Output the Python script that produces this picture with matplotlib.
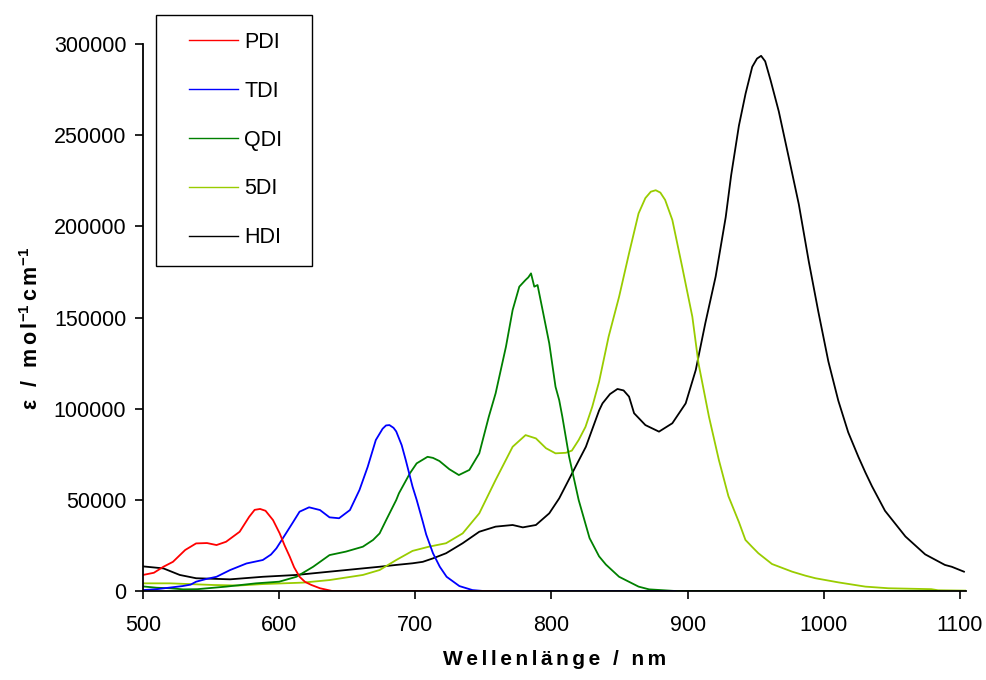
import numpy as np
import matplotlib
matplotlib.use('Agg')
import matplotlib.pyplot as plt
from matplotlib.patches import Rectangle

plt.rcParams['font.family'] = ['Liberation Sans', 'DejaVu Sans']
plt.rcParams['mathtext.fontset'] = 'custom'
plt.rcParams['mathtext.rm'] = 'Liberation Sans:bold'
plt.rcParams['mathtext.it'] = 'Liberation Sans:bold'
plt.rcParams['mathtext.bf'] = 'Liberation Sans:bold'

# absorption spectra (nm, epsilon)
pdi_nm = [500, 508, 515, 522, 531, 539, 547, 554, 561, 571, 578, 582, 586, 590, 595.5, 600.4,
          604, 607.8, 611, 615, 619, 623.7, 630, 639, 700, 761]
pdi_eps = [8800, 10000, 13300, 16000, 22500, 26100, 26300, 25200, 27000, 32500, 40700, 44500,
           45000, 44000, 38900, 31600, 25000, 18800, 13000, 7800, 5000, 3300, 1500, 0, 0, 0]

tdi_nm = [500, 510, 529, 535, 539, 546, 554, 564, 576, 588, 594, 598, 605, 610, 615, 622, 630,
          637, 644, 652, 659, 665, 671, 676, 678.5, 681, 684, 686, 690, 693, 698, 701, 705.5,
          708, 713, 718, 723, 732.4, 742, 750, 891]
tdi_eps = [500, 1000, 2700, 3500, 5100, 6500, 7800, 11500, 15100, 17000, 20000, 23400, 31600,
           37500, 43500, 45900, 44400, 40400, 39900, 44400, 55400, 68000, 82800, 89000, 90800,
           91000, 89500, 87500, 80000, 71800, 57200, 50000, 38000, 31000, 20700, 13300, 7800,
           2700, 500, 0, 0]

qdi_nm = [500, 510, 520, 529.5, 540, 561, 583, 600, 612.7, 625, 637, 649, 661.5, 669, 673.8,
          678.6, 686, 688, 696, 701, 709, 713, 717.7, 725, 732, 739.7, 747, 754, 759, 766.6,
          771.5, 776.4, 781, 783, 785, 787.4, 789.8, 793.5, 798.4, 803, 805.7, 808, 813, 820,
          822.8, 828, 835, 840, 849.7, 864, 871.7, 891, 1085]
qdi_eps = [2500, 1800, 1500, 900, 1000, 2400, 4200, 5100, 7800, 13300, 19700, 21600, 24300,
           28000, 31600, 38900, 49900, 53600, 64500, 70000, 73600, 73000, 71300, 66800, 63600,
           66400, 75500, 95600, 108400, 134000, 154100, 166900, 170600, 172000, 174200, 166900,
           167800, 154100, 135800, 112000, 104700, 95600, 73600, 49900, 42600, 29000, 19000,
           14500, 7800, 2400, 900, 0, 0]

fivedi_nm = [500, 520, 551.5, 570, 588, 617.5, 637, 661.5, 673.8, 686, 698, 710, 722.6, 734.8,
             747, 759, 771.5, 781, 788.6, 796, 803, 810.6, 815, 820, 825, 830, 835, 842, 849.7,
             857, 864, 869, 873, 876.6, 880, 883.5, 888.8, 896, 903.5, 908, 915.7, 923, 930,
             937.7, 942.5, 947.5, 952, 962, 976.8, 986.6, 993.9, 1011, 1030.6, 1047.6, 1079,
             1084, 1104]
fivedi_eps = [4200, 4200, 3300, 3000, 3800, 4600, 6000, 8800, 11500, 17000, 22000, 24300, 26200,
              31600, 42600, 60900, 79100, 85500, 83700, 78300, 75500, 75800, 77000, 82800, 90000,
              101100, 114800, 139500, 161400, 185200, 207100, 215500, 219000, 219800, 218500,
              214500, 203500, 177900, 150400, 124900, 95600, 71800, 52000, 37800, 28000, 24100,
              20700, 14800, 10600, 8400, 7000, 4700, 2400, 1500, 1000, 400, 200]

hdi_nm = [500, 515, 527, 539, 564, 588, 612.7, 637, 661.5, 673.8, 686, 698, 705.5, 713, 722.6,
          734.8, 747, 759, 771.5, 779, 788.6, 798.4, 805.7, 815.5, 825.3, 835, 837.5, 843, 848.5,
          853, 857, 860.7, 869, 879, 888.8, 898.6, 906, 913, 920.6, 928, 932, 937.7, 942.6,
          947.5, 951, 954, 957, 961, 967, 974.4, 981.7, 989, 996, 1003.4, 1010.7, 1018, 1025.5,
          1030.6, 1035.4, 1045, 1060, 1074.5, 1089, 1094, 1103]
hdi_eps = [13500, 12400, 8800, 7000, 6400, 7800, 8800, 10600, 12400, 13300, 14300, 15200, 16000,
           17900, 20700, 26200, 32500, 35300, 36200, 34900, 36200, 42600, 50800, 65000, 79100,
           99000, 102900, 108000, 110800, 110000, 106600, 97500, 91000, 87400, 92000, 102900,
           121200, 146800, 172400, 205000, 228000, 255200, 272800, 287500, 292000, 293500,
           290500, 280000, 263000, 237500, 212100, 180800, 153300, 125900, 104400, 87000, 73500,
           65000, 57500, 44000, 29900, 20100, 14300, 13300, 10600]

names = ['PDI', 'TDI', 'QDI', '5DI', 'HDI']
colors = ['#ff0000', '#0000ff', '#008000', '#99cc00', '#000000']
series = [(pdi_nm, pdi_eps), (tdi_nm, tdi_eps), (qdi_nm, qdi_eps),
          (fivedi_nm, fivedi_eps), (hdi_nm, hdi_eps)]

W, H = 986, 680
fig = plt.figure(figsize=(W / 100, H / 100), dpi=100)
ax = fig.add_axes([143 / W, 1 - 591 / H, (966 - 143) / W, (591 - 44) / H])

# draw last series first so the short ones stay on top along the baseline
handles = {}
for (nm, eps), name, c in reversed(list(zip(series, names, colors))):
    line, = ax.plot(nm, eps, color=c, lw=1.3, label=name)
    handles[name] = line

ax.set_xlim(500, 1104.5)
ax.set_ylim(0, 300000)
ax.set_xticks(np.arange(500, 1101, 100))
ax.set_yticks(np.arange(0, 300001, 50000))
ax.tick_params(labelsize=15.5, direction='out', length=6, width=1.2, color='black')
ax.tick_params(axis='y', pad=6)
ax.tick_params(axis='x', pad=11)
for s in ['top', 'right']:
    ax.spines[s].set_visible(False)
for s in ['left', 'bottom']:
    ax.spines[s].set_linewidth(1.3)

sp = '\u2006'
ax.set_xlabel(sp.join('Wellenlänge / nm'), fontsize=15, fontweight='bold')
ax.xaxis.set_label_coords(0.5, -0.108)
ax.set_ylabel(sp.join('ε / mol') + '$^{-1}$' + sp + sp.join('cm') + '$^{-1}$',
              fontsize=15.5, fontweight='bold')
ax.yaxis.set_label_coords(-0.121, 0.48)

# legend box
fig.patches.append(Rectangle((155.7 / W, 1 - 265.7 / H), 156.3 / W, 250.4 / H,
                             transform=fig.transFigure, fill=False, edgecolor='black', lw=1.0))
leg = fig.legend([handles[n] for n in names], names, loc='upper left',
                 bbox_to_anchor=(189 / W, 1 - 32 / H), bbox_transform=fig.transFigure,
                 frameon=False, fontsize=15.5, handlelength=2.28, handletextpad=0.28,
                 labelspacing=1.29, borderpad=0, borderaxespad=0)
for l in leg.get_lines():
    l.set_linewidth(1.0)

fig.savefig('out.png', dpi=100)
